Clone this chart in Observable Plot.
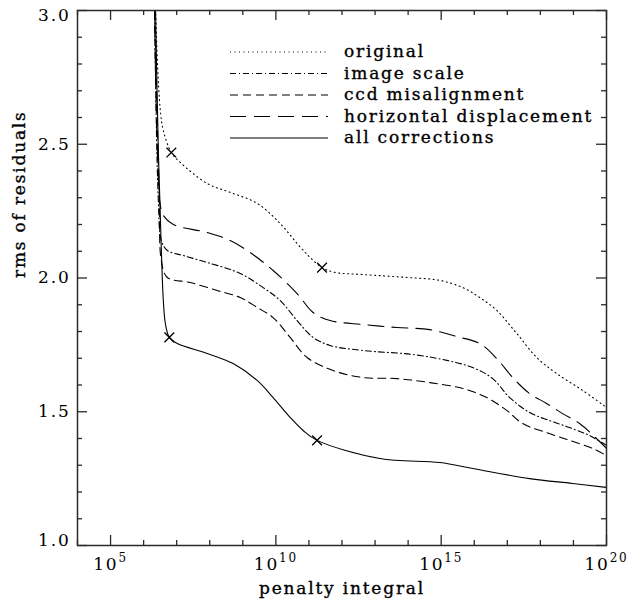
<!DOCTYPE html>
<html>
<head>
<meta charset="utf-8">
<script src="https://cdn.jsdelivr.net/npm/d3@7"></script>
<script src="https://cdn.jsdelivr.net/npm/@observablehq/plot@0.6"></script>
<style>
  html, body { margin: 0; padding: 0; background: #fff; }
  #chart { position: relative; width: 628px; height: 605px; }
  #legend { position: absolute; left: 0; top: 0; pointer-events: none; }
</style>
</head>
<body>
<div id="chart"></div>
<script>
// ---- data (x given as log10 of penalty integral) ----
const seriesNames = ["original", "image scale", "ccd misalignment", "horizontal displacement", "all corrections"];
const seriesDash = ["1,3.5", "6,3,1,3", "8,5", "16,8", null];

const originalExp = [6.355, 6.415, 6.506, 6.596, 6.838, 7.109, 7.925, 8.619, 9.434, 10.128, 10.642, 11.034, 11.396, 11.789, 12.634, 13.962, 14.958, 15.653, 16.166, 16.679, 17.283, 17.887, 18.491, 19.275, 20.0];
const originalVal = [3.037, 2.813, 2.626, 2.551, 2.469, 2.432, 2.353, 2.320, 2.279, 2.204, 2.129, 2.077, 2.039, 2.021, 2.013, 2.002, 1.991, 1.964, 1.927, 1.879, 1.793, 1.703, 1.643, 1.580, 1.516];

const imageScaleExp = [6.325, 6.445, 6.536, 6.717, 7.200, 7.925, 8.921, 9.615, 10.128, 10.642, 11.125, 11.638, 12.634, 14.143, 15.170, 15.955, 16.558, 17.072, 17.675, 18.279, 18.883, 19.487, 20.0];
const imageScaleVal = [3.037, 2.290, 2.140, 2.103, 2.084, 2.058, 2.017, 1.964, 1.916, 1.841, 1.778, 1.748, 1.729, 1.714, 1.692, 1.665, 1.624, 1.553, 1.497, 1.467, 1.441, 1.411, 1.374];

const ccdExp = [6.325, 6.475, 6.536, 6.717, 7.411, 8.226, 8.921, 9.434, 9.917, 10.430, 10.943, 11.728, 12.634, 13.660, 14.657, 15.653, 16.377, 16.981, 17.464, 18.189, 18.883, 19.577, 20.0];
const ccdVal = [3.037, 2.290, 2.065, 2.002, 1.983, 1.953, 1.927, 1.890, 1.852, 1.778, 1.703, 1.654, 1.628, 1.624, 1.609, 1.587, 1.553, 1.505, 1.456, 1.422, 1.393, 1.363, 1.336];

const horizExp = [6.325, 6.415, 6.506, 6.596, 6.898, 7.925, 8.619, 9.223, 9.917, 10.642, 11.125, 11.638, 12.634, 13.660, 14.657, 15.472, 16.166, 16.679, 17.162, 17.675, 18.189, 18.672, 19.185, 19.698, 20.0];
const horizVal = [3.037, 2.477, 2.271, 2.234, 2.200, 2.170, 2.140, 2.095, 2.028, 1.942, 1.871, 1.841, 1.826, 1.815, 1.807, 1.781, 1.755, 1.699, 1.628, 1.568, 1.531, 1.493, 1.456, 1.400, 1.363];

const allExp = [6.355, 6.445, 6.536, 6.596, 6.657, 6.777, 7.019, 7.925, 8.709, 9.434, 9.917, 10.430, 10.823, 11.245, 13.147, 14.958, 15.955, 17.675, 18.974, 20.0];
const allVal = [3.037, 2.477, 2.103, 1.916, 1.830, 1.778, 1.755, 1.718, 1.680, 1.617, 1.553, 1.479, 1.430, 1.393, 1.325, 1.310, 1.288, 1.250, 1.232, 1.217];

const markerExp = [6.838, 11.396, 6.777, 11.245];
const markerVal = [2.469, 2.039, 1.778, 1.393];

const xMajorExp = [5, 10, 15, 20];
const yMajor = [1.0, 1.5, 2.0, 2.5, 3.0];
const xLabel = "penalty integral";
const yLabel = "rms of residuals";

// ---- build tables ----
const expsList = [originalExp, imageScaleExp, ccdExp, horizExp, allExp];
const valsList = [originalVal, imageScaleVal, ccdVal, horizVal, allVal];
const seriesData = seriesNames.map((name, i) =>
  expsList[i].map((e, j) => ({x: Math.pow(10, e), y: valsList[i][j], name})));
const markers = markerExp.map((e, i) => ({x: Math.pow(10, e), y: markerVal[i]}));

const xMajor = xMajorExp.map(e => Math.pow(10, e));
const xMinor = d3.range(4, 21).filter(e => !xMajorExp.includes(e)).map(e => Math.pow(10, e));
const yMinor = d3.range(10, 31).map(v => v / 10).filter(v => !yMajor.some(m => Math.abs(m - v) < 1e-9));

const W = 628, H = 605, mL = 77, mR = 22, mT = 10, mB = 60;
const pw = W - mL - mR, ph = H - mT - mB;
const axisColor = "#2a2a2a";
const major = 10, minor = 5;
const FS = 17;
const LS = "1.8px";
const FONT = "'DejaVu Serif',serif";

const lineMarks = seriesData.map((d, i) => Plot.line(d, {
  x: "x", y: "y", stroke: "#000", strokeWidth: 1.1,
  strokeDasharray: seriesDash[i] || undefined,
  curve: "catmull-rom", clip: true
}));

const fmt = d3.format(".1f");
const txt = {fill: "#000", fontSize: FS, fontFamily: FONT, stroke: "#000", strokeWidth: 0.35};

const plot = Plot.plot({
  width: W, height: H,
  marginLeft: mL, marginRight: mR, marginTop: mT, marginBottom: mB,
  style: {fontFamily: FONT, fontSize: FS + "px", letterSpacing: LS, color: "#000", background: "#fff"},
  x: {type: "log", domain: [1e4, 1e20], axis: null},
  y: {domain: [1, 3], axis: null},
  marks: [
    ...lineMarks,
    Plot.dot(markers, {x: "x", y: "y", symbol: "times", r: 4.5, stroke: "#000", strokeWidth: 1.3}),
    // inward ticks
    Plot.ruleX(xMajor, {insetTop: ph - major, stroke: axisColor, strokeWidth: 1.3}),
    Plot.ruleX(xMajor, {insetBottom: ph - major, stroke: axisColor, strokeWidth: 1.3}),
    Plot.ruleX(xMinor, {insetTop: ph - minor, stroke: axisColor, strokeWidth: 1.3}),
    Plot.ruleX(xMinor, {insetBottom: ph - minor, stroke: axisColor, strokeWidth: 1.3}),
    Plot.ruleY(yMajor, {insetRight: pw - major, stroke: axisColor, strokeWidth: 1.3}),
    Plot.ruleY(yMajor, {insetLeft: pw - major, stroke: axisColor, strokeWidth: 1.3}),
    Plot.ruleY(yMinor, {insetRight: pw - minor, stroke: axisColor, strokeWidth: 1.3}),
    Plot.ruleY(yMinor, {insetLeft: pw - minor, stroke: axisColor, strokeWidth: 1.3}),
    Plot.frame({stroke: axisColor, strokeWidth: 1.5}),
    // tick labels
    Plot.axisX(xMajor, {tickSize: 0, tickPadding: 12, label: null, tickFormat: d => "10^" + Math.round(Math.log10(d)), ...txt}),
    Plot.axisY([1.5, 2.0, 2.5], {tickSize: 0, tickPadding: 7, label: null, tickFormat: fmt, ...txt}),
    Plot.axisY([1.0], {tickSize: 0, tickPadding: 7, label: null, tickFormat: fmt, dy: -5, ...txt}),
    Plot.axisY([3.0], {tickSize: 0, tickPadding: 7, label: null, tickFormat: fmt, dy: 5, ...txt}),
    // axis titles
    Plot.text([xLabel], {text: d => d, frameAnchor: "bottom", dy: 48, ...txt}),
    Plot.text([yLabel], {text: d => d, frameAnchor: "left", rotate: -90, dx: -58, ...txt})
  ]
});

const chart = document.getElementById("chart");
chart.appendChild(plot);

// superscript exponents on x tick labels
d3.select(plot).selectAll('g[aria-label="x-axis tick label"] text').each(function() {
  const t = this.textContent;
  const m = t.match(/^10\^(\d+)$/);
  if (!m) return;
  const sel = d3.select(this);
  sel.text("10");
  sel.append("tspan").attr("dy", "-0.6em").attr("font-size", "12px").text(m[1]);
});

// legend overlay
const legend = d3.select(chart).append("svg")
  .attr("id", "legend").attr("width", W).attr("height", H)
  .style("font-family", FONT).style("font-size", FS + "px").style("letter-spacing", LS);
const legX1 = 230, legX2 = 328, legTx = 344, legY0 = 52, legDy = 21.5;
seriesNames.forEach((name, i) => {
  const y = legY0 + i * legDy;
  legend.append("line").attr("x1", legX1).attr("x2", legX2).attr("y1", y).attr("y2", y)
    .attr("stroke", "#000").attr("stroke-width", 1.1)
    .attr("stroke-dasharray", seriesDash[i] || null);
  legend.append("text").attr("x", legTx).attr("y", y + 5).attr("fill", "#000")
    .attr("stroke", "#000").attr("stroke-width", 0.35).text(name);
});
</script>
</body>
</html>
